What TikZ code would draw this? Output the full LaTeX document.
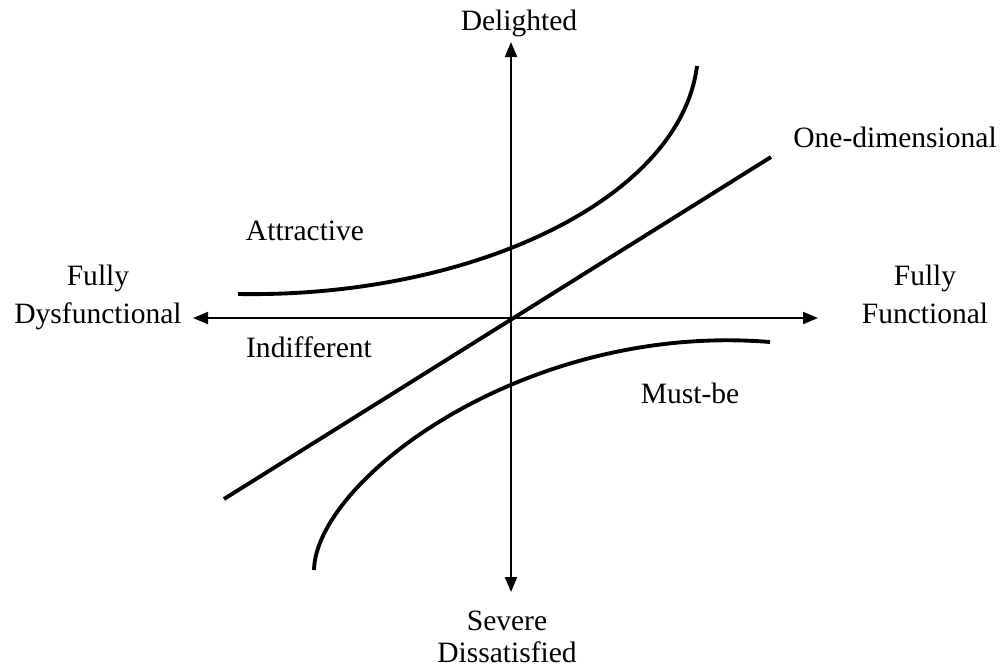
\documentclass[tikz,border=0pt]{standalone}
\usepackage{fontspec}
\setmainfont{Liberation Serif}
\usetikzlibrary{arrows.meta}
\tikzset{
  axis/.style={{Triangle[length=3mm,width=2.4mm]}-{Triangle[length=3mm,width=2.4mm]},line width=1.1pt},
  kano/.style={line width=2.2pt},
  lbl/.style={font=\fontsize{16.8}{18.2}\selectfont,align=center,inner sep=0pt,anchor=base}
}
\begin{document}
\begin{tikzpicture}[x=0.2mm,y=-0.2mm]
\useasboundingbox (0,0) rectangle (1006,670);
\coordinate (O) at (511,318);
\coordinate (W) at (193,318); \coordinate (E) at (818,318);
\coordinate (N) at (511,42); \coordinate (S) at (511,592);
% axes
\draw[axis] (W)--(E);
\draw[axis] (N)--(S);
% quality curves
\coordinate (A1) at (238,294); \coordinate (A2) at (697,66);
\draw[kano] (A1) .. controls (470,298) and (680,200) .. (A2);
\coordinate (L1) at (224,499); \coordinate (L2) at (771,157);
\draw[kano] (L1)--(L2);
\coordinate (M1) at (314,570); \coordinate (M2) at (770,342);
\draw[kano] (M1) .. controls (316,480) and (525,322) .. (M2);
% labels (base of last line)
\node[lbl] (del) at (519,30) {Delighted};
\node[lbl] (sev) at (507,662) {Severe\\Dissatisfied};
\node[lbl] (dys) at (98,323) {Fully\\[3pt]Dysfunctional};
\node[lbl] (fun) at (925,323) {Fully\\[3pt]Functional};
\node[lbl,anchor=base west] (one) at (793,147) {One-dimensional};
\node[lbl] (att) at (305,240) {Attractive};
\node[lbl] (ind) at (309,357) {Indifferent};
\node[lbl] (must) at (690,403) {Must-be};
\end{tikzpicture}
\end{document}
